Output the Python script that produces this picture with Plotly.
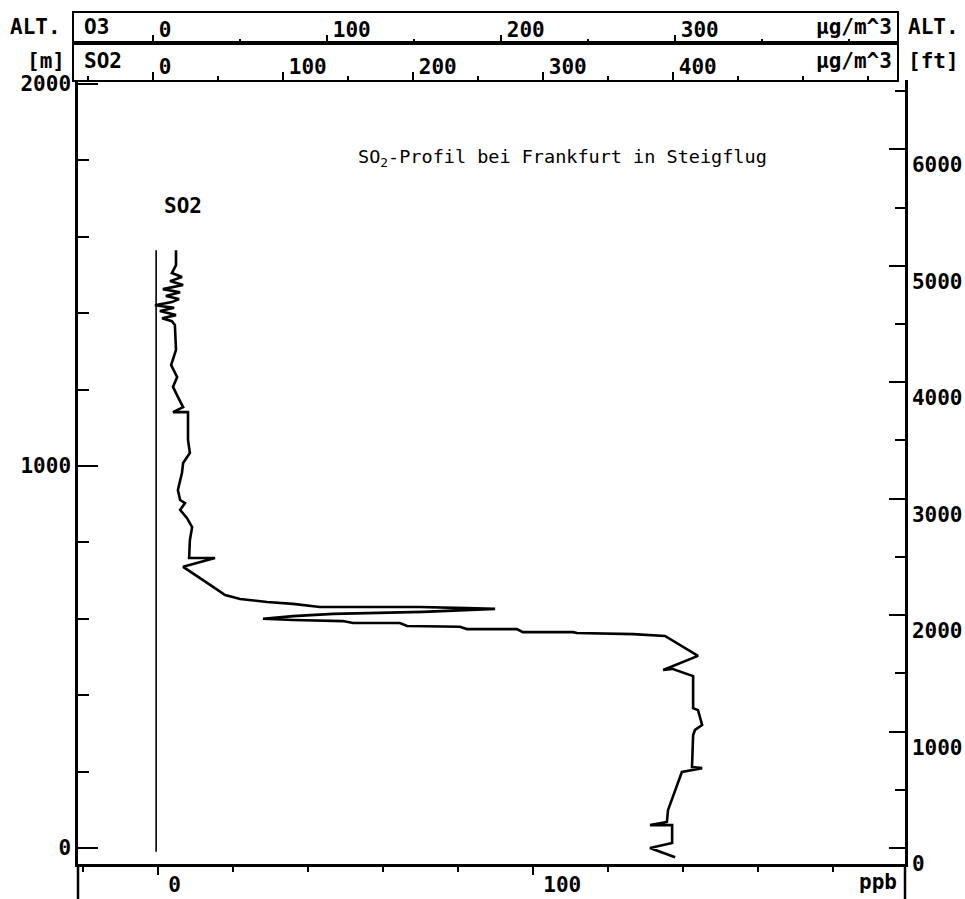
import plotly.graph_objects as go

# ---------------- data ----------------
# SO2 profile (ppb) vs altitude (m), traced from top of climb to ground
so2_ppb = [4.8, 4.8, 3.7, 6.4, 3.2, 6.7, 1.3, 5.9, 2.1, 5.6, 3.7, -0.8, 4.3, 0.5, 4.8, 1.1, 3.7, 4.5,
           4.8, 3.5, 5.1, 4.0, 5.3, 6.7, 4.0, 8.0, 8.0, 8.5, 6.7, 6.4, 5.3, 5.9, 7.2, 5.9, 7.7, 9.1,
           8.5, 8.3, 15.2, 6.7, 13.1, 17.9, 21.9, 29.1, 36.0, 43.2, 55.7, 69.9, 82.4, 89.9,
           70.7, 59.2, 46.7, 36.0, 28.0,
           36.0, 49.3, 52.0, 64.5, 66.4, 80.5, 82.4, 95.7, 97.3, 110.7, 111.7, 126.7, 135.2, 144.0,
           134.7, 137.1, 142.7, 142.7, 144.0, 145.1, 143.2, 142.7, 142.4, 145.1, 139.7, 137.9,
           136.0, 135.7, 131.2, 137.1, 137.1, 131.2, 137.9]
so2_alt_m = [1565, 1526, 1505, 1495, 1484, 1474, 1463, 1455, 1445, 1437, 1429, 1421, 1414, 1406, 1395, 1387, 1379, 1369,
             1304, 1264, 1233, 1207, 1181, 1154, 1141, 1141, 1068, 1034, 1008, 982, 937, 911, 903, 885, 864, 840,
             806, 759, 759, 736, 694, 662, 652, 644, 639, 631, 631, 631, 628, 626,
             618, 615, 613, 607, 600,
             597, 594, 589, 589, 581, 579, 573, 573, 565, 565, 563, 560, 555, 503,
             466, 469, 450, 366, 361, 322, 309, 296, 212, 209, 199, 152,
             99, 68, 60, 60, 13, 0, -24]

# reference (zero) line
ref_ppb = [-0.5, -0.5]
ref_alt_m = [-10, 1565]

# axis ticks
alt_m_ticks = [0, 1000, 2000]
alt_ft_ticks = [0, 1000, 2000, 3000, 4000, 5000, 6000]
ppb_ticks = [0, 100]
o3_ug_ticks = [0, 100, 200, 300]
so2_ug_ticks = [0, 100, 200, 300, 400]

# ---------------- layout helpers ----------------
W, H = 965, 899
def fx(px):
    return px / W
def fy(py):
    return 1 - py / H

FONT = "DejaVu Sans Mono"
tickfont = dict(family=FONT, size=21, color="black", weight=700)

# pixel mappings
X0_PPB, PX_PER_PPB = 158, 3.75
Y0_M, PX_PER_M = 848, 0.382
PL, PR, PT, PB = 78, 905, 80, 864
HL, HR = 74, 897
O3_X0, O3_PX = 153, 1.74
SO2_X0, SO2_PX = 153, 1.30

xr = [(PL - X0_PPB) / PX_PER_PPB, (PR - X0_PPB) / PX_PER_PPB]
yr = [(Y0_M - PB) / PX_PER_M, (Y0_M - PT) / PX_PER_M]
FT = 3.28084

fig = go.Figure()
fig.add_trace(go.Scatter(x=ref_ppb, y=ref_alt_m, mode="lines",
                         line=dict(color="black", width=1.6), showlegend=False, hoverinfo="skip"))
fig.add_trace(go.Scatter(x=so2_ppb, y=so2_alt_m, mode="lines",
                         line=dict(color="black", width=2.6), showlegend=False))
# dummy traces to realize the header subplots
fig.add_trace(go.Scatter(x=[None], y=[None], xaxis="x2", yaxis="y3", showlegend=False, hoverinfo="skip"))
fig.add_trace(go.Scatter(x=[None], y=[None], xaxis="x3", yaxis="y4", showlegend=False, hoverinfo="skip"))
fig.add_trace(go.Scatter(x=[None], y=[None], xaxis="x", yaxis="y2", showlegend=False, hoverinfo="skip"))

fig.update_layout(
    template="none",
    width=W, height=H, margin=dict(l=0, r=0, t=0, b=0, pad=0, autoexpand=False),
    paper_bgcolor="white", plot_bgcolor="white",
    xaxis=dict(domain=[fx(PL), fx(PR)], range=xr, anchor="y", automargin=False,
               showline=True, linecolor="black", linewidth=2.5, showgrid=False, zeroline=False,
               tickmode="array", tickvals=ppb_ticks, ticktext=[str(v) for v in ppb_ticks],
               ticks="outside", ticklen=8, tickwidth=2, tickcolor="black",
               minor=dict(tickmode="linear", tick0=0, dtick=20, ticks="outside", ticklen=5,
                          tickwidth=1.5, tickcolor="black", showgrid=False),
               ticklabelposition="outside right", ticklabelshift=8, tickfont=tickfont),
    yaxis=dict(domain=[fy(PB), fy(PT)], range=yr, anchor="x", automargin=False,
               showline=True, linecolor="black", linewidth=2.5, showgrid=False, zeroline=False,
               tickmode="array", tickvals=alt_m_ticks, ticktext=[str(v) for v in alt_m_ticks],
               ticks="inside", ticklen=20, tickwidth=2, tickcolor="black",
               minor=dict(tickmode="linear", tick0=0, dtick=200, ticks="inside", ticklen=11,
                          tickwidth=2, tickcolor="black", showgrid=False),
               tickfont=tickfont),
    yaxis2=dict(overlaying="y", side="right", anchor="x", range=[yr[0] * FT, yr[1] * FT],
                automargin=False,
                showline=True, linecolor="black", linewidth=2.5, showgrid=False, zeroline=False,
                tickmode="array", tickvals=alt_ft_ticks, ticktext=[str(v) for v in alt_ft_ticks],
                ticks="inside", ticklen=16, tickwidth=2, tickcolor="black",
                minor=dict(tickmode="linear", tick0=0, dtick=500, ticks="inside", ticklen=10,
                           tickwidth=2, tickcolor="black", showgrid=False),
                ticklabelposition="outside bottom", tickfont=tickfont),
    xaxis2=dict(domain=[fx(HL), fx(HR)], anchor="y3", automargin=False,
                range=[(HL - O3_X0) / O3_PX, (HR - O3_X0) / O3_PX],
                showline=True, mirror=True, linecolor="black", linewidth=2, showgrid=False, zeroline=False,
                tickmode="array", tickvals=o3_ug_ticks, ticktext=[str(v) for v in o3_ug_ticks],
                ticks="inside", ticklen=8, tickwidth=1.5, tickcolor="black",
                minor=dict(tickmode="linear", tick0=0, dtick=50, ticks="inside", ticklen=4,
                           tickwidth=1.5, tickcolor="black", showgrid=False),
                ticklabelposition="inside right", ticklabelshift=4, tickfont=tickfont),
    yaxis3=dict(domain=[fy(43), fy(13)], anchor="x2", range=[0, 1], automargin=False,
                showline=True, mirror=True, linecolor="black", linewidth=2,
                showticklabels=False, ticks="", showgrid=False, zeroline=False),
    xaxis3=dict(domain=[fx(HL), fx(HR)], anchor="y4", automargin=False,
                range=[(HL - SO2_X0) / SO2_PX, (HR - SO2_X0) / SO2_PX],
                showline=True, mirror=True, linecolor="black", linewidth=2, showgrid=False, zeroline=False,
                tickmode="array", tickvals=so2_ug_ticks, ticktext=[str(v) for v in so2_ug_ticks],
                ticks="inside", ticklen=8, tickwidth=1.5, tickcolor="black",
                minor=dict(tickmode="linear", tick0=0, dtick=50, ticks="inside", ticklen=4,
                           tickwidth=1.5, tickcolor="black", showgrid=False),
                ticklabelposition="inside right", ticklabelshift=4, tickfont=tickfont),
    yaxis4=dict(domain=[fy(80), fy(43)], anchor="x3", range=[0, 1], automargin=False,
                showline=True, mirror=True, linecolor="black", linewidth=2,
                showticklabels=False, ticks="", showgrid=False, zeroline=False),
)

# frame continuation below the bottom axis
for xpx in (PL, PR):
    fig.add_shape(type="line", xref="paper", yref="paper", x0=fx(xpx), x1=fx(xpx),
                  y0=fy(PB), y1=fy(H), line=dict(color="black", width=2.5))

def ann(text, xpx, ypx, anchor="left", size=21, weight=700):
    fig.add_annotation(text=text, xref="paper", yref="paper", x=fx(xpx), y=fy(ypx),
                       xanchor=anchor, yanchor="middle", showarrow=False,
                       font=dict(family=FONT, size=size, color="black", weight=weight))

ann("ALT.", 8, 27)
ann("[m]", 67, 61, "right")
ann("ALT.", 906, 27)
ann("[ft]", 906, 61)
ann("O3", 82, 27)
ann("SO2", 82, 61)
ann("µg/m^3", 894, 27, "right")
ann("µg/m^3", 894, 61, "right")
ann("ppb", 899, 882, "right")
ann("SO2", 162, 206)
ann("SO<sub>2</sub>-Profil bei Frankfurt in Steigflug", 356, 158, "left", size=18.5, weight=500)

fig.write_html("out.html")
